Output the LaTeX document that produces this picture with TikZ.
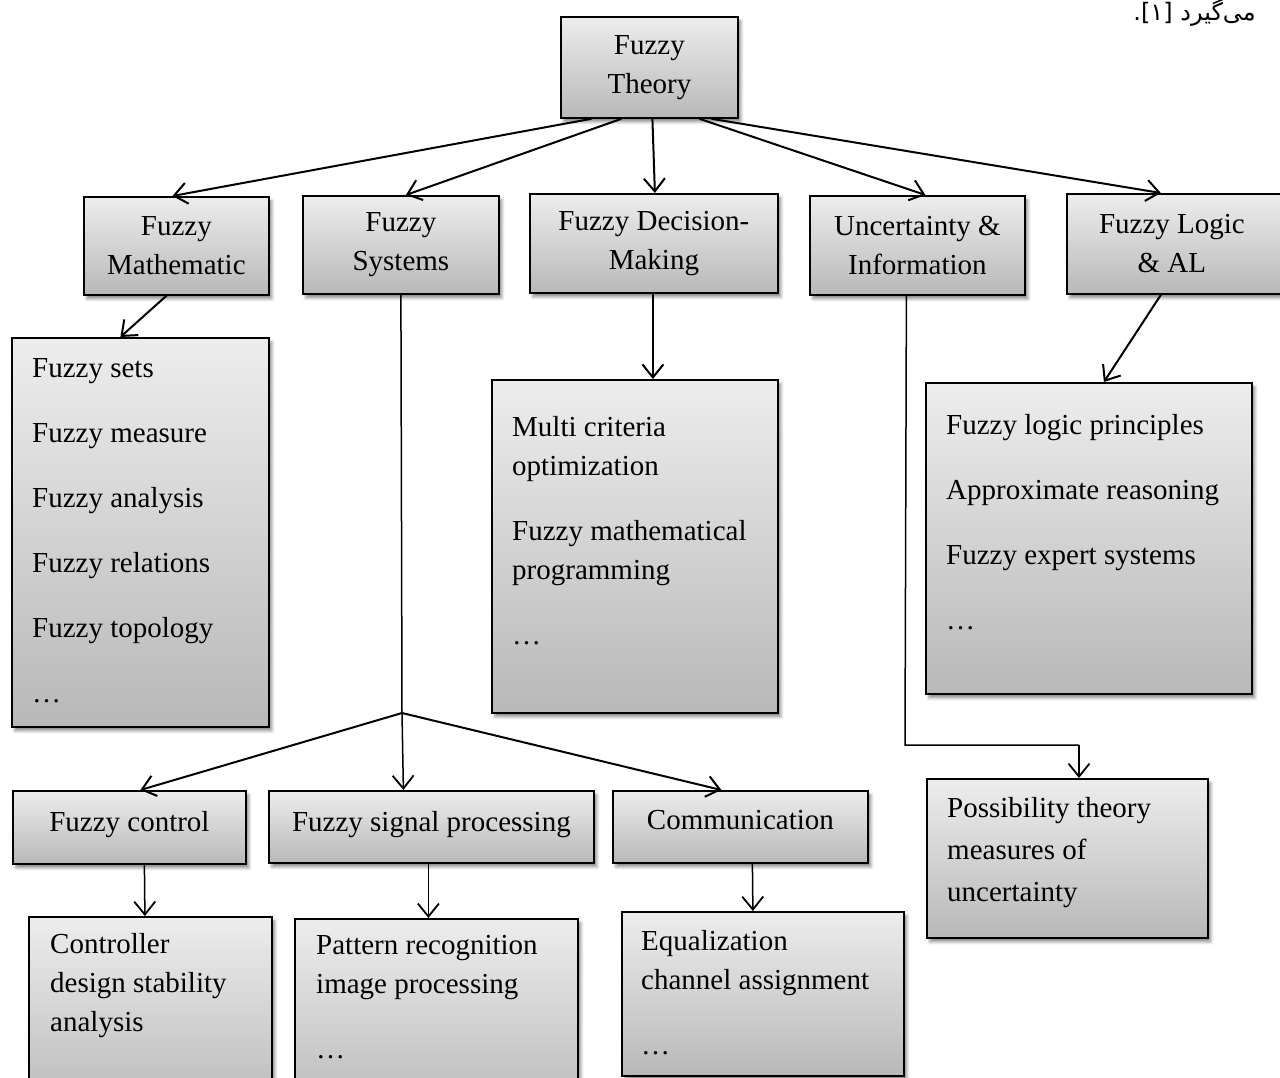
\documentclass[tikz,border=0pt]{standalone}
\usepackage{fontspec}
\setmainfont{Liberation Serif}
\newfontfamily\arabicfont[Script=Arabic]{DejaVu Sans}
\TeXXeTstate=1
\usetikzlibrary{arrows.meta,shadows.blur}
\definecolor{boxtop}{HTML}{EDEDED}
\definecolor{boxbot}{HTML}{B8B8B8}
\newcommand{\fsz}{\fontsize{29}{39}\selectfont}
\newcommand{\toplines}[1]{\begin{tabular}[t]{@{}l@{}}#1\end{tabular}}
\tikzset{
  box/.style={draw=black, line width=1.8pt, top color=boxtop, bottom color=boxbot,
    blur shadow={shadow xshift=3pt, shadow yshift=-4pt, shadow blur radius=3pt, shadow opacity=45},
    inner sep=0pt, anchor=north west, font=\fsz, align=center},
  txt/.style={inner sep=0pt, anchor=base west, font=\fsz},
  arr/.style={line width=2pt, -{Straight Barb[length=13pt,width=21pt,line width=2pt]}},
  thinarr/.style={line width=1.5pt, -{Straight Barb[length=13pt,width=21pt,line width=1.8pt]}},
  thin/.style={line width=1.5pt}
}
\begin{document}
\begin{tikzpicture}[x=1pt,y=-1pt]
\useasboundingbox (0,0) rectangle (1280,1078);
% Persian fragment at top right
\node[inner sep=0pt, anchor=base east, font=\arabicfont\fontsize{24}{28}\selectfont] (fa) at (1256,21) {\beginR می‌گیرد [۱].\endR};
% top
\node[box, minimum width=177pt, minimum height=101pt] (theory) at (560,16) {Fuzzy\\Theory};
% second row
\node[box, minimum width=185pt, minimum height=98pt] (math) at (83,196) {Fuzzy\\Mathematic};
\node[box, minimum width=196pt, minimum height=98pt] (sys) at (302,195) {Fuzzy\\Systems};
\node[box, minimum width=248pt, minimum height=99pt] (dec) at (529,193) {Fuzzy Decision-\\Making};
\node[box, minimum width=215pt, minimum height=99pt] (unc) at (809,195) {Uncertainty \&\\Information};
\node[box, minimum width=240pt, minimum height=100pt] (logic) at (1066,193) {\hspace*{-30pt}Fuzzy Logic\\\hspace*{-30pt}\& AL};
% lists
\node[box, minimum width=257pt, minimum height=389pt] (mlist) at (11,337) {};
\node[txt] (mlistt) at (32,377) {\toplines{Fuzzy sets\\[26pt]Fuzzy measure\\[26pt]Fuzzy analysis\\[26pt]Fuzzy relations\\[26pt]Fuzzy topology\\[26pt]…}};
\node[box, minimum width=286pt, minimum height=333pt] (dlist) at (491,379) {};
\node[txt] (dlistt) at (512,436) {\toplines{Multi criteria\\optimization\\[26pt]Fuzzy mathematical\\programming\\[26pt]…}};
\node[box, minimum width=326pt, minimum height=311pt] (llist) at (925,382) {};
\node[txt] (llistt) at (946,434) {\toplines{Fuzzy logic principles\\[26pt]Approximate reasoning\\[26pt]Fuzzy expert systems\\[26pt]…}};
\node[box, minimum width=281pt, minimum height=159pt] (poss) at (926,778) {};
\node[txt] (posst) at (947,817) {\toplines{Possibility theory\\[3pt]measures of\\[3pt]uncertainty}};
% third row
\node[box, minimum width=233pt, minimum height=73pt] (ctrl) at (12,790) {\raisebox{12pt}{Fuzzy control}};
\node[box, minimum width=325pt, minimum height=72pt] (sig) at (268,790) {\raisebox{10pt}{Fuzzy signal processing}};
\node[box, minimum width=255pt, minimum height=72pt] (com) at (612,790) {\raisebox{14pt}{Communication}};
% bottom row
\node[box, minimum width=243pt, minimum height=200pt] (ctrlb) at (28,916) {};
\node[txt] (ctrlbt) at (50,953) {\toplines{Controller\\design stability\\analysis}};
\node[box, minimum width=283pt, minimum height=200pt] (pat) at (294,918) {};
\node[txt] (patt) at (316,954) {\toplines{Pattern recognition\\image processing\\[26pt]…}};
\node[box, minimum width=282pt, minimum height=164pt] (equ) at (621,911) {};
\node[txt] (equt) at (641,950) {\toplines{Equalization\\channel assignment\\[26pt]…}};
% connectors from theory
\draw[arr] ([xshift=-58pt]theory.south) -- ([xshift=-4pt]math.north);
\draw[arr] ([xshift=-28pt]theory.south) -- ([xshift=5pt]sys.north);
\draw[arr] ([xshift=3pt]theory.south) -- ([xshift=1pt]dec.north);
\draw[arr] ([xshift=50pt]theory.south) -- ([xshift=8pt]unc.north);
\draw[arr] ([xshift=62pt]theory.south) -- ([xshift=-26pt]logic.north);
% second row to lists
\draw[arr] ([xshift=-10pt]math.south) -- ([xshift=-20pt]mlist.north);
\draw[arr] ([xshift=-1pt]dec.south) -- ([xshift=18pt]dlist.north);
\draw[arr] ([xshift=-26pt]logic.south) -- ([xshift=15pt]llist.north);
% fuzzy systems branch
\coordinate (j) at (402,713);
\draw[thin] (sys.south) -- (j);
\draw[arr] (j) -- ([xshift=11pt]ctrl.north);
\draw[thinarr] (j) -- ([xshift=-28pt]sig.north);
\draw[arr] (j) -- ([xshift=-19pt]com.north);
% uncertainty
\coordinate (u1) at (905,745);
\coordinate (u2) at (1079,745);
\draw[thin] ([xshift=-11pt]unc.south) -- (u1) -- (u2);
\draw[thinarr] (u2) -- (u2 |- poss.north);
% third row down
\draw[thinarr] ([xshift=15pt]ctrl.south) -- ([xshift=-5.5pt]ctrlb.north);
\draw[thinarr] ([xshift=-3pt]sig.south) -- ([xshift=-8pt]pat.north);
\draw[thinarr] ([xshift=12pt]com.south) -- ([xshift=-10pt]equ.north);
\end{tikzpicture}
\end{document}
